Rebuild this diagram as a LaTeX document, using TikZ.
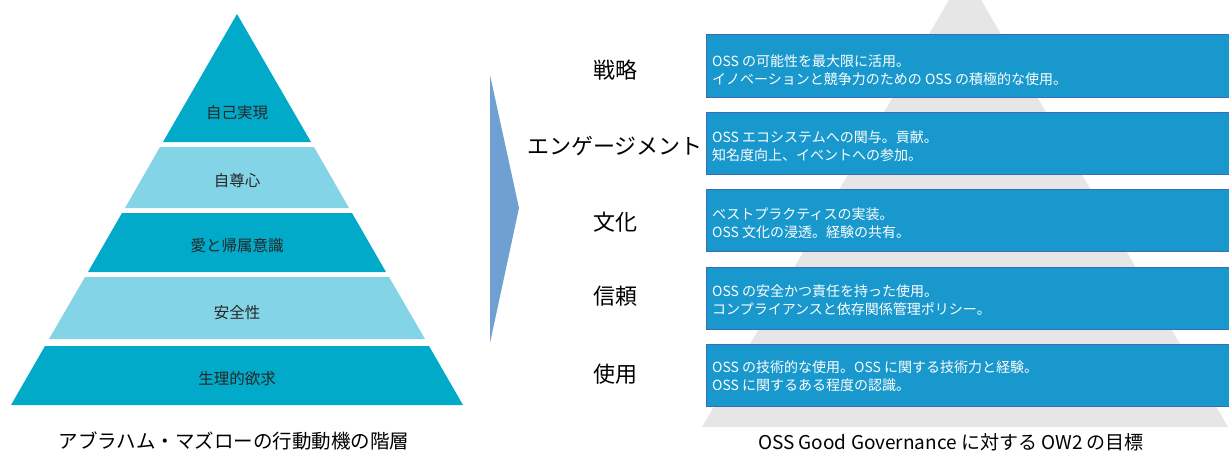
\documentclass[tikz,border=0pt]{standalone}
\usepackage{fontspec}
\setmainfont{Noto Sans CJK JP}
\definecolor{pdark}{RGB}{0,170,200}
\definecolor{plight}{RGB}{132,212,232}
\definecolor{boxblue}{RGB}{24,152,204}
\definecolor{boxline}{RGB}{62,108,178}
\definecolor{chev}{RGB}{112,160,210}
\definecolor{greytri}{RGB}{230,230,230}
\tikzset{
  lvl/.style={inner sep=0pt, text=black!85, font=\fontsize{15.5}{18}\selectfont},
  stage/.style={inner sep=0pt, text=black, font=\fontsize{22}{26}\selectfont},
  goalbox/.style={draw=boxline, line width=0.8pt, fill=boxblue, minimum width=560pt, anchor=north west, inner sep=0pt},
  goaltext/.style={anchor=west, inner sep=0pt, text=white, align=left, font=\fontsize{14}{18.5}\selectfont},
  captext/.style={inner sep=0pt, text=black, font=\fontsize{19.5}{22}\selectfont}
}
\begin{document}
\begin{tikzpicture}[x=1pt,y=-1pt]
\useasboundingbox (0,0) rectangle (1229,452);
\begin{scope}
\clip (0,0) rectangle (1229,452);
% left pyramid
\fill[pdark] (237,14) -- (311,142) -- (163,142) -- cycle;
\fill[plight] (160,147) -- (314,147) -- (349,208) -- (125,208) -- cycle;
\fill[pdark] (122,213) -- (352,213) -- (386,272) -- (88,272) -- cycle;
\fill[plight] (85,277) -- (389,277) -- (425,339) -- (49,339) -- cycle;
\fill[pdark] (45,346) -- (429,346) -- (463,405) -- (11,405) -- cycle;
\node[lvl] (l1) at (237,113) {自己実現};
\node[lvl] (l2) at (237,181) {自尊心};
\node[lvl] (l3) at (237,246) {愛と帰属意識};
\node[lvl] (l4) at (237,313) {安全性};
\node[lvl] (l5) at (237,379) {生理的欲求};
\node[captext] (capL) at (234,441) {アブラハム・マズローの行動動機の階層};
% chevron
\fill[chev] (490,75) -- (519,208) -- (490,343) -- cycle;
% stages
\node[stage] (s1) at (615,70) {戦略};
\node[stage] (s2) at (615,146) {エンゲージメント};
\node[stage] (s3) at (615,222) {文化};
\node[stage] (s4) at (615,296) {信頼};
\node[stage] (s5) at (615,374) {使用};
% grey background triangle
\fill[greytri] (965,-28) -- (1228,427) -- (702,427) -- cycle;
% goal boxes
\node[goalbox, minimum height=63pt] (g1) at (706,34) {};
\node[goalbox, minimum height=62pt] (g2) at (706,112) {};
\node[goalbox, minimum height=62pt] (g3) at (706,189) {};
\node[goalbox, minimum height=62pt] (g4) at (706,267) {};
\node[goalbox, minimum height=62pt] (g5) at (706,344) {};
\node[goaltext] (t1) at (712,70) {OSS の可能性を最大限に活用。\\イノベーションと競争力のための OSS の積極的な使用。};
\node[goaltext] (t2) at (712,146) {OSS エコシステムへの関与。貢献。\\知名度向上、イベントへの参加。};
\node[goaltext] (t3) at (712,223) {ベストプラクティスの実装。\\OSS 文化の浸透。経験の共有。};
\node[goaltext] (t4) at (712,300) {OSS の安全かつ責任を持った使用。\\コンプライアンスと依存関係管理ポリシー。};
\node[goaltext] (t5) at (712,376) {OSS の技術的な使用。OSS に関する技術力と経験。\\OSS に関するある程度の認識。};
\node[captext, font=\fontsize{19}{22}\selectfont] (capR) at (951,442) {OSS Good Governance に対する OW2 の目標};
\end{scope}
\end{tikzpicture}
\end{document}
